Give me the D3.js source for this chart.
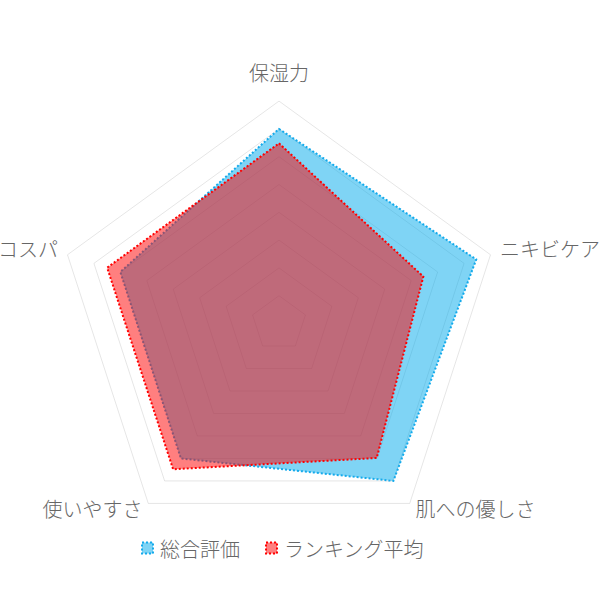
<!DOCTYPE html>
<html>
<head>
<meta charset="utf-8">
<script src="https://cdn.jsdelivr.net/npm/d3@7"></script>
<style>
html,body{margin:0;padding:0;background:#fff;}
svg{display:block;}
text{font-family:"Noto Sans CJK JP","Noto Sans",sans-serif;font-weight:300;fill:#666;}
</style>
</head>
<body>
<svg id="chart" width="600" height="600"></svg>
<script>
const categories = ["保湿力", "ニキビケア", "肌への優しさ", "使いやすさ", "コスパ"];
const seriesNames = ["総合評価", "ランキング平均"];
const overallValues = [4.5, 4.73, 4.5, 4.0, 4.0];
const rankingAverage = [4.24, 3.73, 3.99, 4.24, 4.25];
const scaleMin = 1, scaleMax = 5, scaleStep = 0.5;

const svg = d3.select("#chart");
const cx = 279, cy = 323.5, R = 222.4;
const g = svg.append("g").attr("transform", `translate(${cx},${cy})`);

const r = d3.scaleLinear().domain([scaleMin, scaleMax]).range([0, R]);
const angle = d3.scalePoint().domain(categories).range([0, 2 * Math.PI * (categories.length - 1) / categories.length]);

const ticks = d3.range(scaleMin + scaleStep, scaleMax + 1e-9, scaleStep);

// grid rings
const ring = d3.lineRadial().angle(d => angle(d.c)).radius(d => r(d.v)).curve(d3.curveLinearClosed);
g.selectAll("path.grid").data(ticks).join("path")
  .attr("class", "grid")
  .attr("d", t => ring(categories.map(c => ({c, v: t}))))
  .attr("fill", "none")
  .attr("stroke", "rgba(0,0,0,0.1)")
  .attr("stroke-width", 1);

const series = [
  {name: seriesNames[0], values: overallValues, fill: "rgba(0,170,235,0.5)", stroke: "rgb(20,170,235)"},
  {name: seriesNames[1], values: rankingAverage, fill: "rgba(255,0,0,0.5)", stroke: "rgb(255,0,0)"}
];

series.forEach(s => {
  g.append("path")
    .attr("d", ring(categories.map((c, i) => ({c, v: s.values[i]}))))
    .attr("fill", s.fill)
    .attr("stroke", s.stroke)
    .attr("stroke-width", 2)
    .attr("stroke-dasharray", "2 2")
    .attr("stroke-linejoin", "miter");
});

// point labels
const labelR = R + 10;
categories.forEach(c => {
  const a = angle(c);
  const x = labelR * Math.sin(a), y = -labelR * Math.cos(a);
  let anchor = Math.abs(x) < 1 ? "middle" : (x > 0 ? "start" : "end");
  let dy = Math.abs(x) < 1 ? -18.5 : -3;
  g.append("text")
    .attr("x", x).attr("y", y + dy)
    .attr("text-anchor", anchor)
    .attr("dominant-baseline", "central")
    .attr("font-size", 20)
    .text(c);
});

// legend
const legend = svg.append("g").attr("transform", "translate(0,548)");
const legendX = [141, 265];
series.forEach((s, i) => {
  const lg = legend.append("g").attr("transform", `translate(${legendX[i]},0)`);
  lg.append("rect").attr("x", 1).attr("y", -5.5).attr("width", 11).attr("height", 11)
    .attr("fill", s.fill).attr("stroke", s.stroke).attr("stroke-width", 2).attr("stroke-dasharray", "2 2");
  lg.append("text").attr("x", 19).attr("y", 0)
    .attr("dominant-baseline", "central").attr("font-size", 20).text(s.name);
});
</script>
</body>
</html>
